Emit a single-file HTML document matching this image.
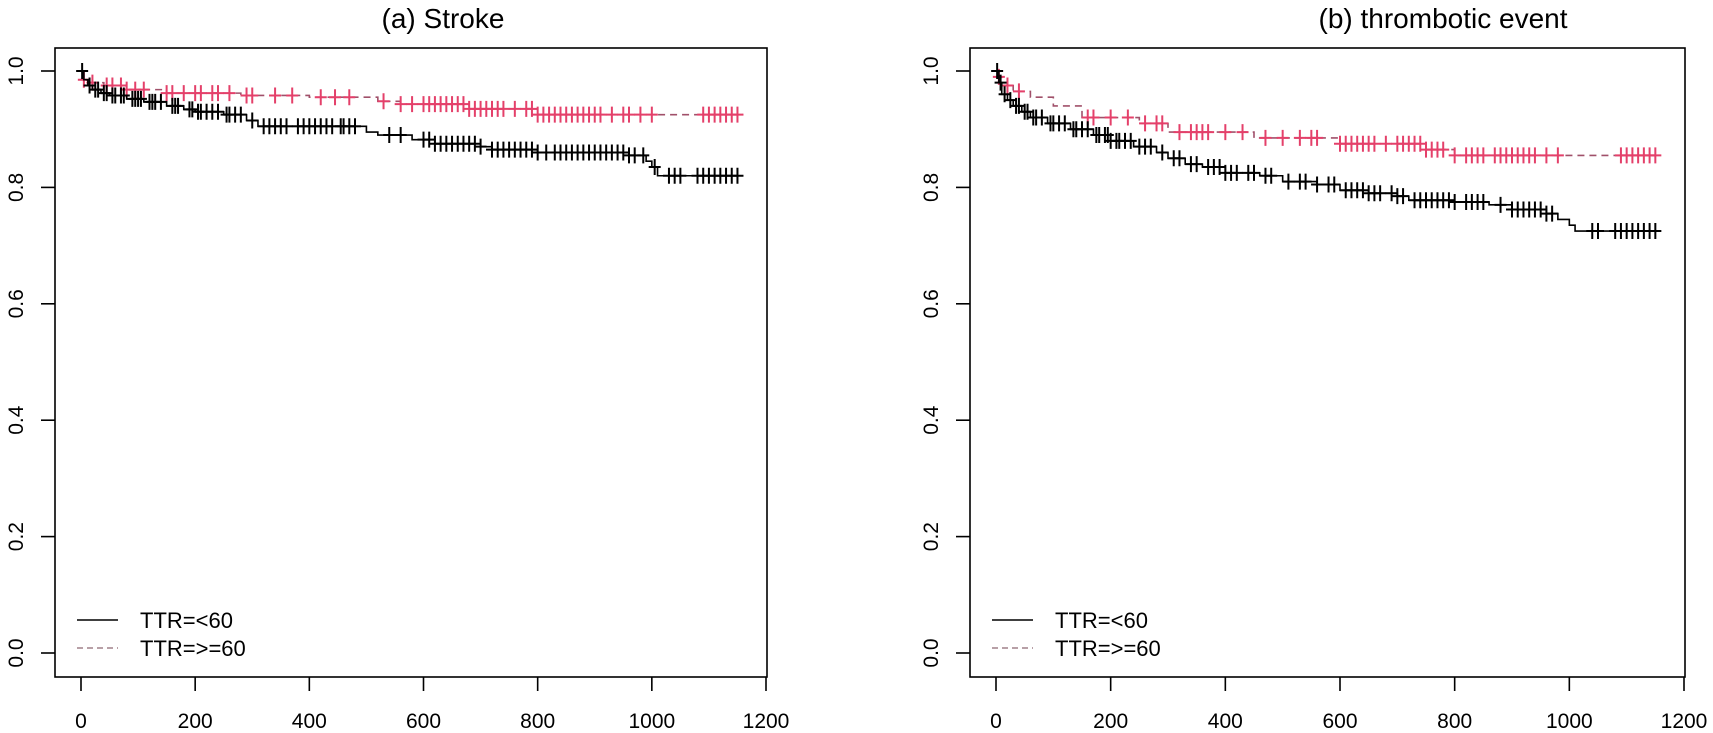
<!DOCTYPE html>
<html><head><meta charset="utf-8"><style>
html,body{margin:0;padding:0;background:#fff;}
svg{display:block;font-family:"Liberation Sans",sans-serif;}
</style></head><body>
<svg id="chart" width="1713" height="733" viewBox="0 0 1713 733"></svg>
<script>
// ---- data ----
const xTicks = [0,200,400,600,800,1000,1200];
const yTicks = [0.0,0.2,0.4,0.6,0.8,1.0];
const yTickLabels = ["0.0","0.2","0.4","0.6","0.8","1.0"];
const legendLabels = ["TTR=<60","TTR=>=60"];
const panelTitles = ["(a) Stroke","(b) thrombotic event"];

// Panel A step times & survival
const aLowT = [0,5,12,20,35,50,80,110,150,180,200,250,290,310,450,500,520,580,620,700,720,800,960,990,1000,1010,1160];
const aLowS = [1.0,0.985,0.975,0.968,0.962,0.958,0.952,0.947,0.94,0.934,0.93,0.925,0.915,0.905,0.905,0.895,0.89,0.882,0.875,0.87,0.865,0.86,0.855,0.845,0.835,0.82,0.82];
const aHighT = [0,10,40,80,150,280,400,520,560,680,800,1160];
const aHighS = [0.985,0.98,0.975,0.968,0.962,0.958,0.955,0.948,0.943,0.935,0.925,0.925];
const aLowCens = [2,15,25,30,40,45,55,60,70,75,90,95,100,105,120,125,130,140,160,165,170,190,195,205,210,220,230,240,255,260,270,280,300,320,330,340,350,360,380,390,400,410,420,430,440,455,460,470,480,540,560,600,610,620,630,640,650,660,670,680,690,700,720,730,740,750,760,770,780,790,800,815,830,840,850,860,870,880,890,900,910,920,930,940,950,960,970,985,1005,1030,1040,1050,1080,1090,1100,1110,1120,1130,1140,1150];
const aHighCens = [5,20,45,55,70,80,95,110,150,160,180,200,210,230,240,260,290,300,340,370,420,445,470,530,560,580,600,610,620,630,640,650,660,670,680,690,700,710,720,730,740,760,780,790,800,810,820,830,840,850,860,870,880,890,900,910,930,950,960,980,1000,1090,1100,1110,1120,1130,1140,1150];

// Panel B step times & survival
const bLowT = [0,5,10,20,30,45,60,90,130,170,200,240,280,300,330,360,400,460,500,560,600,650,700,720,800,860,900,960,980,1000,1010,1160];
const bLowS = [1.0,0.98,0.96,0.95,0.94,0.93,0.92,0.91,0.9,0.89,0.88,0.87,0.86,0.85,0.84,0.835,0.825,0.82,0.81,0.805,0.795,0.79,0.785,0.778,0.775,0.77,0.762,0.755,0.745,0.735,0.725,0.725];
const bHighT = [0,10,30,60,100,150,250,300,450,600,750,800,1160];
const bHighS = [0.99,0.975,0.965,0.955,0.94,0.92,0.91,0.895,0.885,0.875,0.865,0.855,0.855];
const bLowCens = [2,8,15,25,35,40,50,55,65,70,80,95,100,110,120,135,140,150,160,175,180,190,195,200,210,215,225,235,250,260,270,290,310,320,340,350,370,380,390,400,410,420,440,450,470,480,510,530,540,560,580,590,610,620,630,640,650,660,670,690,700,710,730,740,750,760,770,780,790,800,820,830,840,850,880,900,910,920,930,940,950,960,970,1040,1050,1080,1090,1100,1110,1120,1130,1140,1150];
const bHighCens = [5,20,40,160,170,200,230,260,280,290,320,340,350,360,370,400,430,470,500,530,550,560,600,610,620,630,640,650,660,680,700,710,720,730,740,750,760,770,780,800,820,830,840,850,870,880,890,900,910,920,930,940,960,980,1090,1100,1110,1120,1130,1140,1150];

const panels = [
  {name:"stroke", left:55, right:767, top:48, bottom:677, x0:81, x1200:766, titleX:443,
   low:{t:aLowT,s:aLowS,c:aLowCens}, high:{t:aHighT,s:aHighS,c:aHighCens}},
  {name:"thrombotic", left:970, right:1685, top:48, bottom:677, x0:996, x1200:1684, titleX:1443,
   low:{t:bLowT,s:bLowS,c:bLowCens}, high:{t:bHighT,s:bHighS,c:bHighCens}}
];

const NS = "http://www.w3.org/2000/svg";
const svg = document.getElementById('chart');
function mk(tag, attrs, parent){
  const e = document.createElementNS(NS, tag);
  for (const k in attrs) e.setAttribute(k, attrs[k]);
  (parent||svg).appendChild(e);
  return e;
}
const Y1 = 71, Y0 = 653;
function yS(v){ return Y0 + (Y1 - Y0) * v; }
function survAt(t, ts, ss){ let v = ss[0]; for (let i=0;i<ts.length;i++){ if (ts[i] <= t) v = ss[i]; } return v; }

panels.forEach((p, pi) => {
  const xS = v => p.x0 + (p.x1200 - p.x0) * v / 1200;
  const g = mk('g', {});
  
  

  const title = mk('text', {x:p.titleX, y:28, 'text-anchor':'middle', 'font-size':28, fill:'#000'}, g);
  title.textContent = panelTitles[pi];
  
  

  const box = mk('rect', {x:p.left, y:p.top, width:p.right-p.left, height:p.bottom-p.top, fill:'none', stroke:'#000', 'stroke-width':1.6}, g);
  
  

  xTicks.forEach(v => {
    const x = xS(v);
    const tk = mk('line', {x1:x, x2:x, y1:p.bottom, y2:p.bottom+14, stroke:'#000', 'stroke-width':1.6}, g);
    
    
    const lb = mk('text', {x:x, y:728, 'text-anchor':'middle', 'font-size':21, fill:'#000'}, g);
    lb.textContent = String(v);
    
    
  });
  yTicks.forEach((v, i) => {
    const y = yS(v);
    const tk = mk('line', {x1:p.left-14, x2:p.left, y1:y, y2:y, stroke:'#000', 'stroke-width':1.6}, g);
    
    
    const lx = p.left - 32;
    const lb = mk('text', {x:lx, y:y, 'text-anchor':'middle', 'font-size':21, fill:'#000', transform:`rotate(-90 ${lx} ${y})`}, g);
    lb.textContent = yTickLabels[i];
    
    
  });

  function drawSeries(ser, lineColor, markColor, dash, nm){
    let d = `M${xS(ser.t[0])},${yS(ser.s[0])}`;
    for (let i=1;i<ser.t.length;i++){
      d += ` H${xS(ser.t[i])} V${yS(ser.s[i])}`;
    }
    const path = mk('path', {d:d, fill:'none', stroke:lineColor, 'stroke-width':1.6, 'stroke-dasharray':dash}, g);
    
    
    ser.c.forEach(t => {
      const x = xS(t), y = yS(survAt(t, ser.t, ser.s));
      const m = mk('path', {d:`M${x-6},${y} H${x+6} M${x},${y-8} V${y+8}`, stroke:markColor, 'stroke-width':2, fill:'none'}, g);
      
      
    });
  }
  drawSeries(p.high, '#a0506a', '#e4406a', '7 5', 'ttr-high');
  drawSeries(p.low, '#000', '#000', 'none', 'ttr-low');

  const lx = p.left + 22;
  const l1 = mk('line', {x1:lx, x2:lx+41, y1:620, y2:620, stroke:'#000', 'stroke-width':1.6}, g);
  
  
  const t1 = mk('text', {x:lx+63, y:628, 'font-size':22, fill:'#000'}, g);
  t1.textContent = legendLabels[0];
  
  
  const l2 = mk('line', {x1:lx, x2:lx+41, y1:648, y2:648, stroke:'#a0808a', 'stroke-width':1.6, 'stroke-dasharray':'6 4'}, g);
  
  
  const t2 = mk('text', {x:lx+63, y:656, 'font-size':22, fill:'#000'}, g);
  t2.textContent = legendLabels[1];
  
  
});
</script>
</body></html>
